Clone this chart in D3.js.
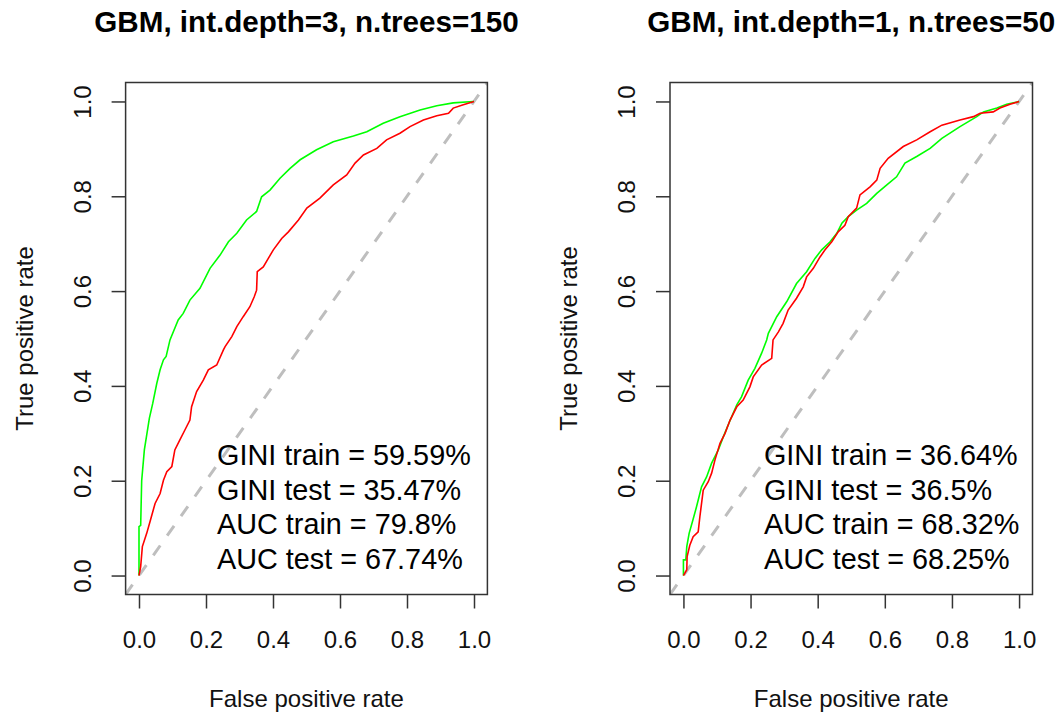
<!DOCTYPE html>
<html>
<head>
<meta charset="utf-8">
<script src="https://d3js.org/d3.v7.min.js"></script>
<style>
  html, body { margin: 0; padding: 0; background: #fff; }
  svg { display: block; font-family: "Liberation Sans", Arial, sans-serif; }
</style>
</head>
<body>
<div id="chart"></div>
<script>
// ROC points [false positive rate, true positive rate]
const leftTrain = [
  [0, 0], [0, 0.103], [0.005, 0.106], [0.008, 0.2], [0.016, 0.265], [0.031, 0.332], [0.041, 0.363],
  [0.053, 0.405], [0.063, 0.434], [0.073, 0.455], [0.081, 0.462], [0.0925, 0.497], [0.117, 0.539],
  [0.132, 0.553], [0.152, 0.581], [0.182, 0.606], [0.212, 0.648], [0.242, 0.676], [0.267, 0.704],
  [0.292, 0.722], [0.321, 0.75], [0.351, 0.768], [0.366, 0.799], [0.391, 0.813], [0.421, 0.838],
  [0.451, 0.859], [0.481, 0.877], [0.53, 0.898], [0.58, 0.915], [0.64, 0.927], [0.68, 0.936],
  [0.729, 0.954], [0.779, 0.968], [0.839, 0.982], [0.889, 0.991], [0.938, 0.997], [0.998, 1], [1, 1]
];
const leftTest = [
  [0, 0], [0.005, 0.019], [0.01, 0.061], [0.023, 0.089], [0.033, 0.114], [0.048, 0.152], [0.063, 0.173],
  [0.073, 0.201], [0.083, 0.219], [0.098, 0.23], [0.107, 0.265], [0.122, 0.286], [0.137, 0.307],
  [0.152, 0.328], [0.157, 0.356], [0.172, 0.388], [0.192, 0.412], [0.207, 0.434], [0.232, 0.444],
  [0.252, 0.476], [0.257, 0.483], [0.277, 0.504], [0.292, 0.525], [0.311, 0.546], [0.331, 0.567],
  [0.344, 0.588], [0.351, 0.602], [0.353, 0.641], [0.371, 0.651], [0.386, 0.669], [0.401, 0.687],
  [0.426, 0.711], [0.446, 0.725], [0.476, 0.75], [0.501, 0.775], [0.54, 0.796], [0.58, 0.824],
  [0.62, 0.845], [0.645, 0.87], [0.67, 0.887], [0.71, 0.901], [0.739, 0.919], [0.779, 0.933],
  [0.809, 0.947], [0.849, 0.961], [0.889, 0.97], [0.924, 0.975], [0.938, 0.986], [0.968, 0.993], [1, 1]
];
const rightTrain = [
  [0, 0], [0, 0.033], [0.007, 0.033], [0.01, 0.061], [0.017, 0.089], [0.027, 0.114], [0.039, 0.145],
  [0.054, 0.187], [0.069, 0.208], [0.084, 0.237], [0.104, 0.265], [0.119, 0.293], [0.137, 0.324],
  [0.159, 0.36], [0.173, 0.377], [0.193, 0.412], [0.213, 0.437], [0.233, 0.469], [0.248, 0.497],
  [0.253, 0.511], [0.278, 0.546], [0.308, 0.578], [0.337, 0.616], [0.367, 0.641], [0.392, 0.669],
  [0.412, 0.687], [0.437, 0.704], [0.457, 0.722], [0.472, 0.743], [0.491, 0.757], [0.516, 0.771],
  [0.546, 0.785], [0.576, 0.806], [0.606, 0.824], [0.635, 0.841], [0.66, 0.87], [0.695, 0.884],
  [0.735, 0.901], [0.77, 0.922], [0.824, 0.947], [0.874, 0.968], [0.894, 0.978], [0.934, 0.986],
  [0.963, 0.994], [1, 1]
];
const rightTest = [
  [0, 0], [0.01, 0.012], [0.011, 0.04], [0.019, 0.064], [0.029, 0.082], [0.044, 0.092], [0.049, 0.124],
  [0.059, 0.18], [0.074, 0.198], [0.084, 0.216], [0.094, 0.244], [0.109, 0.279], [0.124, 0.3],
  [0.139, 0.328], [0.159, 0.356], [0.178, 0.37], [0.198, 0.398], [0.208, 0.419], [0.233, 0.444],
  [0.263, 0.458], [0.267, 0.497], [0.283, 0.514], [0.297, 0.532], [0.312, 0.56], [0.337, 0.585],
  [0.357, 0.609], [0.367, 0.63], [0.387, 0.648], [0.407, 0.672], [0.422, 0.687], [0.442, 0.704],
  [0.461, 0.725], [0.481, 0.739], [0.491, 0.757], [0.516, 0.775], [0.526, 0.803], [0.556, 0.82],
  [0.576, 0.834], [0.586, 0.859], [0.61, 0.88], [0.655, 0.905], [0.695, 0.919], [0.735, 0.936],
  [0.77, 0.95], [0.824, 0.961], [0.864, 0.968], [0.884, 0.975], [0.923, 0.978], [0.943, 0.986],
  [0.973, 0.994], [1, 1]
];

const tickValues = [0, 0.2, 0.4, 0.6, 0.8, 1.0];
const titles = ['GBM, int.depth=3, n.trees=150', 'GBM, int.depth=1, n.trees=50'];
const leftStats = ['GINI train = 59.59%', 'GINI test = 35.47%', 'AUC train = 79.8%', 'AUC test = 67.74%'];
const rightStats = ['GINI train = 36.64%', 'GINI test = 36.5%', 'AUC train = 68.32%', 'AUC test = 68.25%'];

const width = 1059, height = 715;

const svg = d3.select('#chart').append('svg')
  .attr('width', width)
  .attr('height', height);

// R-style plot region: data range padded by 4% on each side
function drawPanel(opts) {
  const x = d3.scaleLinear().domain([-0.04, 1.04]).range([opts.left, opts.right]);
  const y = d3.scaleLinear().domain([-0.04, 1.04]).range([594.5, 82.5]);
  const g = svg.append('g');

  const clipId = 'clip-' + opts.id;
  g.append('clipPath').attr('id', clipId)
    .append('rect')
    .attr('x', opts.left).attr('y', 82.5)
    .attr('width', opts.right - opts.left).attr('height', 594.5 - 82.5);

  const plot = g.append('g').attr('clip-path', `url(#${clipId})`);

  // diagonal reference
  plot.append('line')
    .attr('x1', x(-0.04)).attr('y1', y(-0.04))
    .attr('x2', x(1.04)).attr('y2', y(1.04))
    .attr('stroke', '#bebebe')
    .attr('stroke-width', 3)
    .attr('stroke-dasharray', '12,12');

  const line = d3.line().x(d => x(d[0])).y(d => y(d[1]));

  plot.append('path').datum(opts.train)
    .attr('d', line).attr('fill', 'none')
    .attr('stroke', '#00ff00').attr('stroke-width', 1.6);

  plot.append('path').datum(opts.test)
    .attr('d', line).attr('fill', 'none')
    .attr('stroke', '#ff0000').attr('stroke-width', 1.6);

  // box
  g.append('rect')
    .attr('x', opts.left).attr('y', 82.5)
    .attr('width', opts.right - opts.left).attr('height', 594.5 - 82.5)
    .attr('fill', 'none').attr('stroke', '#333').attr('stroke-width', 1.5);

  // x axis
  const xAxis = d3.axisBottom(x).tickValues(tickValues).tickSize(14).tickPadding(24)
    .tickFormat(d3.format('.1f'));
  const gx = g.append('g').attr('transform', 'translate(0,594.5)').call(xAxis);
  gx.select('.domain').remove();
  gx.selectAll('.tick line').attr('stroke', '#333').attr('stroke-width', 1.5);
  gx.selectAll('.tick text')
    .attr('dy', null).attr('y', 53.5)
    .attr('font-size', 24).attr('fill', '#111')
    .attr('font-family', '"Liberation Sans", Arial, sans-serif');

  // y axis, labels rotated like R's default
  const yAxis = d3.axisLeft(y).tickValues(tickValues).tickSize(14)
    .tickFormat(d3.format('.1f'));
  const gy = g.append('g').attr('transform', `translate(${opts.left},0)`).call(yAxis);
  gy.select('.domain').remove();
  gy.selectAll('.tick line').attr('stroke', '#333').attr('stroke-width', 1.5);
  gy.selectAll('.tick text')
    .attr('x', null).attr('dy', null)
    .attr('transform', 'translate(-35,0) rotate(-90)')
    .attr('text-anchor', 'middle')
    .attr('font-size', 24).attr('fill', '#111')
    .attr('font-family', '"Liberation Sans", Arial, sans-serif');

  const mid = (opts.left + opts.right) / 2;

  g.append('text')
    .attr('x', mid).attr('y', 32)
    .attr('text-anchor', 'middle')
    .attr('font-size', 29.6).attr('font-weight', 'bold').attr('fill', '#000')
    .text(opts.title);

  g.append('text')
    .attr('x', mid).attr('y', 707)
    .attr('text-anchor', 'middle')
    .attr('font-size', 24).attr('fill', '#111')
    .text('False positive rate');

  g.append('text')
    .attr('transform', `translate(${opts.left - 93},${(82.5 + 594.5) / 2}) rotate(-90)`)
    .attr('text-anchor', 'middle')
    .attr('font-size', 24).attr('fill', '#111')
    .text('True positive rate');

  // statistics block
  g.append('g').selectAll('text')
    .data(opts.stats)
    .join('text')
    .attr('x', x(opts.statsX))
    .attr('y', (d, i) => 465 + i * 34.6)
    .attr('font-size', 28.8).attr('fill', '#000')
    .text(d => d);
}

drawPanel({ id: 'a', left: 125.6, right: 487.4, train: leftTrain, test: leftTest,
  title: titles[0], stats: leftStats, statsX: 0.233 });
drawPanel({ id: 'b', left: 670, right: 1032.5, train: rightTrain, test: rightTest,
  title: titles[1], stats: rightStats, statsX: 0.24 });
</script>
</body>
</html>
